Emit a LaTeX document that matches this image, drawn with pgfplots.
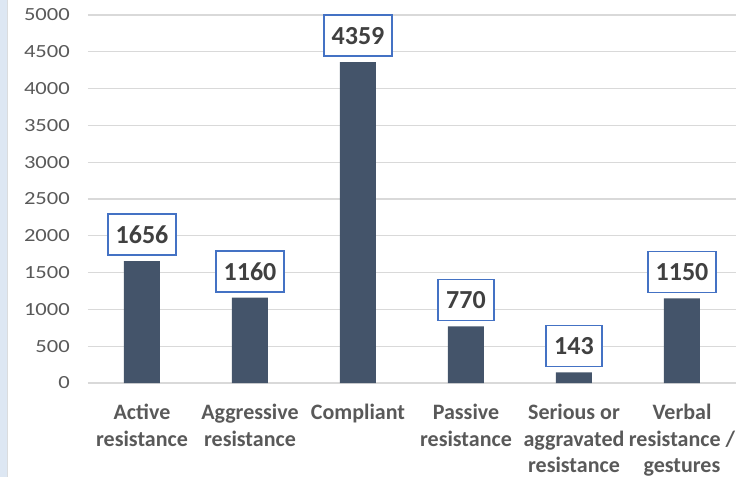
\documentclass[border=0pt]{standalone}
\usepackage{pgfplots}
\pgfplotsset{compat=1.18}
\usepackage{fontspec}
\setmainfont{Carlito}
\newfontfamily\tickfont[FakeStretch=1.22]{Carlito}
\definecolor{barc}{HTML}{44546A}
\definecolor{gridc}{HTML}{D9D9D9}
\definecolor{txtc}{HTML}{595959}
\definecolor{lblc}{HTML}{404040}
\definecolor{boxc}{HTML}{4472C4}
\definecolor{stripc}{HTML}{DDE7F3}
\begin{document}
\begin{tikzpicture}[x=1pt,y=1pt]
\useasboundingbox (0,0) rectangle (745,477);
\fill[stripc] (0,0) rectangle (7,477);
\draw[gridc!80!stripc] (7.5,0) -- (7.5,477);
\begin{axis}[
  at={(88pt,94pt)}, anchor=south west,
  scale only axis, width=648pt, height=368pt,
  xmin=-0.5, xmax=5.5, ymin=0, ymax=5000,
  ytick={0,500,...,5000},
  xtick={0,1,2,3,4,5},
  xticklabels={{Active\\resistance},{Aggressive\\resistance},{Compliant},{Passive\\resistance},{Serious or\\aggravated\\resistance},{Verbal\\resistance /\\gestures}},
  axis line style={draw=none},
  major tick length=0pt,
  ymajorgrids, grid style={gridc, line width=1.3pt},
  yticklabel style={font=\tickfont\fontsize{18.5}{20}\selectfont, text=txtc, inner sep=0pt, xshift=-18pt},
  xticklabel style={font=\bfseries\fontsize{22}{26.5}\selectfont, text=txtc, align=center, anchor=north, inner sep=0pt, yshift=-21pt},
  /pgf/number format/assume math mode=true,
  /pgf/number format/1000 sep={},
  ybar, bar width=36pt,
  nodes near coords,
  every node near coord/.append style={font=\bfseries\fontsize{26}{28}\selectfont, text=lblc, draw=boxc, line width=1.8pt, fill=white, inner xsep=8pt, minimum height=41pt, anchor=south, yshift=5pt},
]
\addplot[fill=barc, draw=none] coordinates {(0,1656) (1,1160) (2,4359) (3,770) (4,143) (5,1150)};
\end{axis}
\end{tikzpicture}
\end{document}
